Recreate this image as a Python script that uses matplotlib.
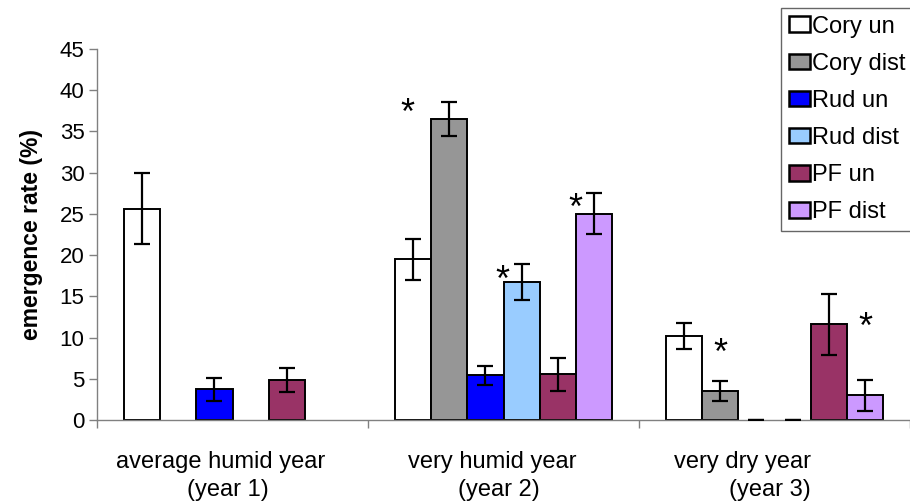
import matplotlib
matplotlib.use("Agg")
import matplotlib.pyplot as plt
import matplotlib.transforms as mtransforms
import numpy as np

plt.rcParams['font.family'] = ['Liberation Sans', 'DejaVu Sans']

groups = ["average humid year  \n(year 1)", "very humid year  \n(year 2)", "very dry year        \n(year 3)"]
series = ["Cory un", "Cory dist", "Rud un", "Rud dist", "PF un", "PF dist"]
colors = ["#FFFFFF", "#969696", "#0000FF", "#99CCFF", "#993366", "#CC99FF"]

cory_un = [25.6, 19.5, 10.2]
cory_un_err = [4.3, 2.5, 1.55]
cory_dist = [np.nan, 36.5, 3.5]
cory_dist_err = [np.nan, 2.05, 1.2]
rud_un = [3.7, 5.4, 0.0]
rud_un_err = [1.35, 1.2, 0.0]
rud_dist = [np.nan, 16.75, 0.0]
rud_dist_err = [np.nan, 2.2, 0.0]
pf_un = [4.85, 5.55, 11.6]
pf_un_err = [1.4, 2.0, 3.7]
pf_dist = [np.nan, 25.0, 3.0]
pf_dist_err = [np.nan, 2.5, 1.9]

values = [cory_un, cory_dist, rud_un, rud_dist, pf_un, pf_dist]
errors = [cory_un_err, cory_dist_err, rud_un_err, rud_dist_err, pf_un_err, pf_dist_err]

# significance asterisks: group index, series index, x offset (bar widths), height
star_group = [1, 1, 1, 2, 2]
star_series = [1, 3, 5, 1, 5]
star_dx = [-1.17, -0.52, -0.5, 0.0, 0.02]
star_y = [38.4, 18.1, 26.9, 9.3, 12.4]

fig = plt.figure(figsize=(9.1, 5.03), dpi=100)
ax = fig.add_axes([97/910, 83/503, 813/910, 371/503])

x = np.arange(len(groups))
w = 1/7.5
for i, (name, vals, errs, col) in enumerate(zip(series, values, errors, colors)):
    pos = x + (i - 2.5) * w
    bars = ax.bar(pos, vals, width=w, color=col, edgecolor='black', linewidth=1.4,
                  label=name, zorder=2)
    for b in bars:
        if b.get_height() == 0:
            b.set_linewidth(0)
    ax.errorbar(pos, vals, yerr=errs, fmt='none', ecolor='black', elinewidth=1.6,
                capsize=5.8, capthick=1.6, zorder=3)

star_fs = 26
for g, s, dx, yv in zip(star_group, star_series, star_dx, star_y):
    xs = x[g] + (s - 2.5) * w + dx * w
    ax.annotate('*', xy=(xs, yv), xytext=(0, -0.57 * star_fs), textcoords='offset points',
                ha='center', va='baseline', fontsize=star_fs, zorder=4)

ax.set_xlim(-0.5, 2.5)
ax.set_ylim(0, 45)
ax.set_yticks(np.arange(0, 46, 5))
ax.tick_params(axis='y', labelsize=16, length=6, width=1, color='#808080', pad=3)
ax.set_xticks(x)
ax.set_xticklabels(groups, fontsize=17, linespacing=1.38)
ax.tick_params(axis='x', which='major', length=0, pad=22)
ax.set_xticks(np.arange(-0.5, 2.6, 1), minor=True)
ax.tick_params(axis='x', which='minor', length=6, width=1, color='#808080')
shift = mtransforms.ScaledTranslation(-5/100, 0, fig.dpi_scale_trans)
for lab in ax.get_xticklabels():
    lab.set_transform(lab.get_transform() + shift)
for sp in ['top', 'right']:
    ax.spines[sp].set_visible(False)
for sp in ['left', 'bottom']:
    ax.spines[sp].set_color('#808080')
    ax.spines[sp].set_linewidth(1)
ax.set_ylabel('emergence rate (%)', fontsize=16.5, fontweight='bold', labelpad=12)

leg = fig.legend(loc='upper left', bbox_to_anchor=(781/910, 1 - 8/503), fontsize=17,
                 frameon=True, fancybox=False, edgecolor='#666666', framealpha=1,
                 handlelength=0.89, handleheight=0.64, handletextpad=0.12,
                 labelspacing=0.64, borderpad=0.32, borderaxespad=0)
leg.get_frame().set_linewidth(1)
for h in leg.legend_handles:
    h.set_linewidth(1.8)

fig.savefig('out.png', dpi=100)
